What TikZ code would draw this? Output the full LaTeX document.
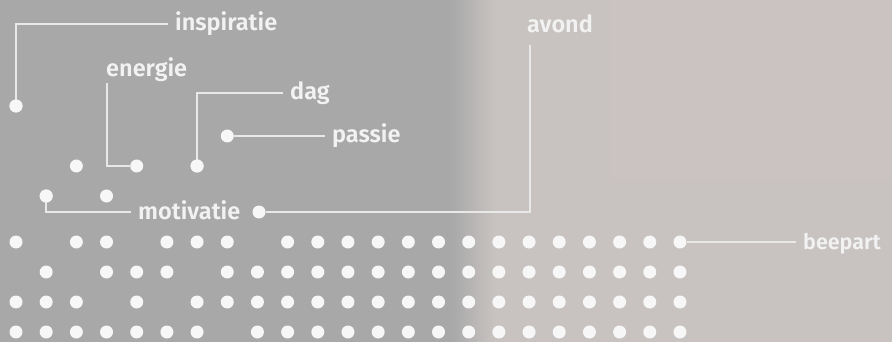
\documentclass[tikz,border=0pt]{standalone}
\usepackage{fontspec}
\setmainfont{Fira Sans}[BoldFont={Fira Sans SemiBold}]
\definecolor{bgleft}{HTML}{A8A8A8}
\definecolor{bgright}{HTML}{C8C3C1}
\definecolor{bgpink}{HTML}{CBC3C2}
\definecolor{dotc}{HTML}{F7F7F7}
\definecolor{txtc}{HTML}{F2F2F2}
\definecolor{linec}{HTML}{E8E8E8}
\begin{document}
\begin{tikzpicture}[x=1pt,y=-1pt,
  dot/.style={circle,fill=dotc,inner sep=0pt,minimum size=13pt},
  lbl/.style={text=txtc,font=\fontsize{23.5}{25}\selectfont\bfseries,inner xsep=7pt,inner ysep=0pt,text height=16pt,text depth=2pt,anchor=west},
  conn/.style={draw=linec,line width=1.6pt}]
% background
\useasboundingbox (0,0) rectangle (892,342);
\fill[bgright] (0,0) rectangle (892,342);
\fill[bgpink] (610,0) rectangle (892,178);
\fill[bgleft] (0,0) rectangle (452,342);
\shade[left color=bgleft,right color=bgright] (451,0) rectangle (495,342);
% grid of dots
\foreach \k in {0,2,3,5,6,7,9,10,...,22} \node[dot] (g1-\k) at (16+30.18*\k,242) {};
\foreach \k in {1,3,4,5,7,8,...,22} \node[dot] (g2-\k) at (16+30.18*\k,272) {};
\foreach \k in {0,1,2,4,6,7,...,22} \node[dot] (g3-\k) at (16+30.18*\k,302) {};
\foreach \k in {0,1,...,6,8,9,...,22} \node[dot] (g4-\k) at (16+30.18*\k,332) {};
% upper dots
\node[dot] (dinsp) at (16,106) {};
\node[dot] (dpass) at (16+30.18*7,136) {};
\node[dot] (da) at (16+30.18*2,166) {};
\node[dot] (dener) at (16+30.18*4,166) {};
\node[dot] (ddag) at (16+30.18*6,166) {};
\node[dot] (dmot) at (16+30.18*1,196) {};
\node[dot] (db) at (16+30.18*3,196) {};
\node[dot] (davond) at (259,212) {};
% labels
\node[lbl] (insp) at (168,24) {inspiratie};
\node[lbl] (ener) at (99,70) {energie};
\node[lbl] (dag) at (283,93) {dag};
\node[lbl] (pass) at (325,136) {passie};
\node[lbl] (mot) at (131,212) {motivatie};
\node[lbl] (avond) at (520,26) {avond};
\node[lbl,font=\fontsize{21.5}{24}\selectfont\bfseries] (beep) at (796,242) {beepart};
% connectors
\draw[conn] (dinsp.center) |- (insp.west);
\draw[conn] ([shift={(8,4)}]ener.south west) |- (dener);
\draw[conn] (ddag.center) |- (dag.west);
\draw[conn] (dpass) -- (pass.west);
\draw[conn] (dmot.center) |- (mot.west);
\draw[conn] (davond) -| ([shift={(10,10)}]avond.south west);
\draw[conn] (g1-22) -- (beep.west);
% redraw dots over line ends
\foreach \n in {dinsp,ddag,dmot} \node[dot] at (\n) {};
\end{tikzpicture}
\end{document}
